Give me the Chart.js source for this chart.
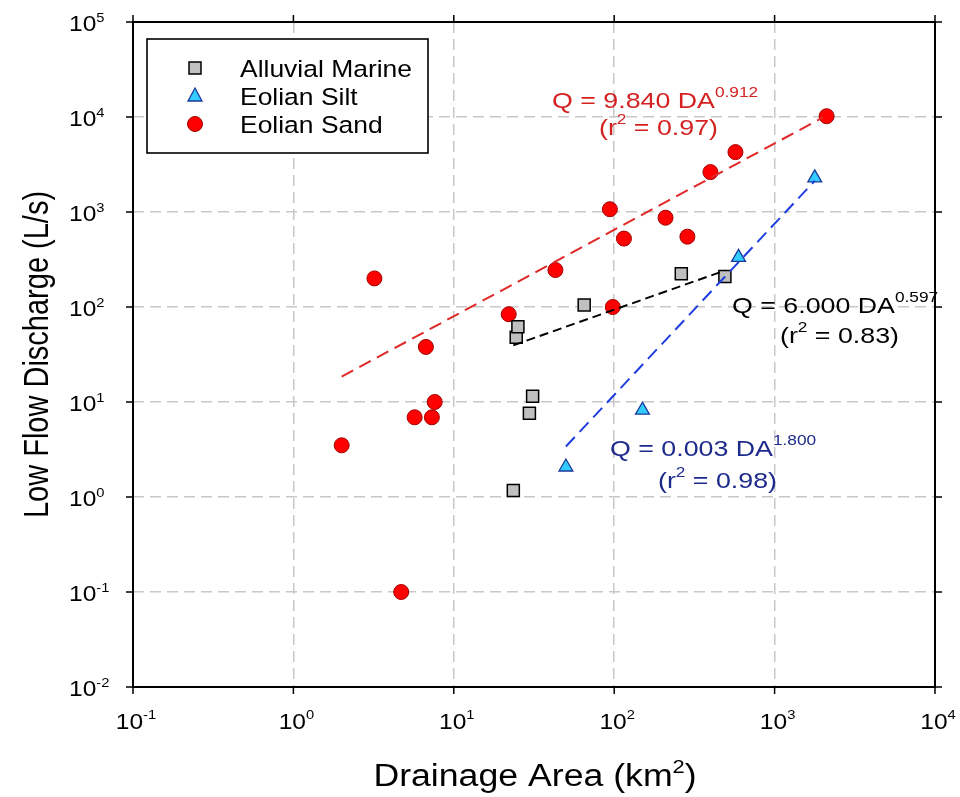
<!DOCTYPE html>
<html>
<head>
<meta charset="utf-8">
<script src="https://cdn.jsdelivr.net/npm/chart.js@4.4.1/dist/chart.umd.min.js"></script>
<style>
  html, body { margin: 0; padding: 0; background: #fff; }
  canvas { display: block; }
</style>
</head>
<body>
<canvas id="myChart" width="960" height="797"></canvas>
<script>
// ---- data ----
const alluvialArea = [23.5, 24.5, 25.1, 29.6, 31, 65, 262, 490];
const alluvialQ = [1.17, 48, 62, 7.6, 11.5, 105, 224, 209];

const siltArea = [50, 150, 596, 1780];
const siltQ = [2.07, 8.2, 333, 2290];

const sandArea = [2.0, 3.2, 4.7, 5.7, 6.7, 7.3, 7.6, 22, 43, 94, 98, 115, 209, 286, 398, 570, 2110];
const sandQ = [3.5, 200, 0.1, 6.9, 38, 6.9, 10, 84, 245, 1070, 100, 525, 870, 550, 2630, 4270, 10200];

// fitted power-law lines (end points)
const sandFitArea = [2.0, 2000];
const sandFitQ = [18.5, 9900];
const alluvialFitArea = [23.5, 490];
const alluvialFitQ = [39.5, 242];
const siltFitArea = [50, 1780];
const siltFitQ = [3.4, 2130];

const xTickExp = [-1, 0, 1, 2, 3, 4];
const yTickExp = [-2, -1, 0, 1, 2, 3, 4, 5];

const seriesNames = ["Alluvial Marine", "Eolian Silt", "Eolian Sand"];

function pts(xs, ys) {
    return xs.map((x, i) => ({ x: x, y: ys[i] }));
}

const FONT = '"Liberation Sans", Arial, sans-serif';

// draws a run of [text, size, rise] parts, k = horizontal stretch
function rich(ctx, parts, x, y, color, align, k) {
    k = k || 1;
    ctx.save();
    ctx.fillStyle = color;
    ctx.textBaseline = "alphabetic";
    ctx.textAlign = "left";
    let total = 0;
    parts.forEach(p => {
        ctx.font = p[1] + "px " + FONT;
        total += ctx.measureText(p[0]).width * k;
    });
    let cx = x;
    if (align === "center") cx = x - total / 2;
    if (align === "right") cx = x - total;
    parts.forEach(p => {
        ctx.font = p[1] + "px " + FONT;
        ctx.save();
        ctx.translate(cx, y - (p[2] || 0));
        ctx.scale(k, 1);
        ctx.fillText(p[0], 0, 0);
        ctx.restore();
        cx += ctx.measureText(p[0]).width * k;
    });
    ctx.restore();
    return total;
}

function marker(ctx, style, x, y) {
    ctx.save();
    if (style === "rect") {
        ctx.fillStyle = "#c0c0c0";
        ctx.strokeStyle = "#000";
        ctx.lineWidth = 1.5;
        ctx.fillRect(x - 6, y - 6, 12, 12);
        ctx.strokeRect(x - 6, y - 6, 12, 12);
    } else if (style === "triangle") {
        ctx.fillStyle = "#33ccff";
        ctx.strokeStyle = "#1a3a9a";
        ctx.lineWidth = 1.3;
        ctx.beginPath();
        ctx.moveTo(x, y - 8);
        ctx.lineTo(x + 7, y + 5);
        ctx.lineTo(x - 7, y + 5);
        ctx.closePath();
        ctx.fill();
        ctx.stroke();
    } else {
        ctx.fillStyle = "#ff0000";
        ctx.strokeStyle = "#a00000";
        ctx.lineWidth = 1;
        ctx.beginPath();
        ctx.arc(x, y, 7.5, 0, Math.PI * 2);
        ctx.fill();
        ctx.stroke();
    }
    ctx.restore();
}

const decorations = {
    id: "decorations",
    beforeDraw(chart) {
        const ctx = chart.ctx;
        ctx.save();
        ctx.fillStyle = "#fff";
        ctx.fillRect(0, 0, chart.width, chart.height);
        ctx.restore();
    },
    afterDraw(chart) {
        const ctx = chart.ctx;
        const a = chart.chartArea;
        const xs = chart.scales.x, ys = chart.scales.y;

        // frame
        ctx.save();
        ctx.strokeStyle = "#000";
        ctx.lineWidth = 2;
        ctx.strokeRect(a.left, a.top, a.right - a.left, a.bottom - a.top);

        // outward tick marks
        ctx.lineWidth = 1.5;
        ctx.beginPath();
        xTickExp.forEach(e => {
            const px = xs.getPixelForValue(Math.pow(10, e));
            ctx.moveTo(px, a.bottom); ctx.lineTo(px, a.bottom + 7);
            ctx.moveTo(px, a.top); ctx.lineTo(px, a.top - 7);
        });
        yTickExp.forEach(e => {
            const py = ys.getPixelForValue(Math.pow(10, e));
            ctx.moveTo(a.left, py); ctx.lineTo(a.left - 7, py);
            ctx.moveTo(a.right, py); ctx.lineTo(a.right + 7, py);
        });
        ctx.stroke();
        ctx.restore();

        // tick labels
        xTickExp.forEach(e => {
            const px = xs.getPixelForValue(Math.pow(10, e));
            rich(ctx, [["10", 22.5, 0], [String(e), 13.5, 10]], px + 3, a.bottom + 42, "#000", "center", 1.09);
        });
        yTickExp.forEach(e => {
            const py = ys.getPixelForValue(Math.pow(10, e));
            rich(ctx, [["10", 22.5, 0], [String(e), 13.5, 9]], 69, py + 9, "#000", "left", 1.09);
        });

        // axis titles
        rich(ctx, [["Drainage Area (km", 31, 0], ["2", 19, 13], [")", 31, 0]], 535, 786, "#000", "center", 1.15);
        ctx.save();
        ctx.translate(48, (a.top + a.bottom) / 2);
        ctx.rotate(-Math.PI / 2);
        ctx.scale(1, 1.2);
        ctx.font = "29px " + FONT;
        ctx.fillStyle = "#000";
        ctx.textAlign = "center";
        ctx.textBaseline = "alphabetic";
        ctx.fillText("Low Flow Discharge (L/s)", 0, 0);
        ctx.restore();

        // legend
        ctx.save();
        ctx.fillStyle = "#fff";
        ctx.fillRect(147, 39, 281, 114);
        ctx.strokeStyle = "#000";
        ctx.lineWidth = 1.6;
        ctx.strokeRect(147, 39, 281, 114);
        ctx.restore();
        const styles = ["rect", "triangle", "circle"];
        const rows = [68, 96, 124];
        seriesNames.forEach((n, i) => {
            marker(ctx, styles[i], 195, rows[i]);
            rich(ctx, [[n, 24.5, 0]], 240, rows[i] + 8.5, "#000", "left", 1.08);
        });

        // fit equations
        const red = "#d42222", navy = "#1e2a8c";
        rich(ctx, [["Q = 9.840 DA", 22.5, 0], ["0.912", 14.5, 11]], 552, 108, red, "left", 1.19);
        rich(ctx, [["(r", 22.5, 0], ["2", 14.5, 11], [" = 0.97)", 22.5, 0]], 599, 135, red, "left", 1.19);
        rich(ctx, [["Q = 6.000 DA", 22.5, 0], ["0.597", 14.5, 11]], 732, 313, "#000", "left", 1.19);
        rich(ctx, [["(r", 22.5, 0], ["2", 14.5, 11], [" = 0.83)", 22.5, 0]], 780, 343, "#000", "left", 1.19);
        rich(ctx, [["Q = 0.003 DA", 22.5, 0], ["1.800", 14.5, 11]], 610, 456, navy, "left", 1.19);
        rich(ctx, [["(r", 22.5, 0], ["2", 14.5, 11], [" = 0.98)", 22.5, 0]], 658, 488, navy, "left", 1.19);
    }
};

function decadeTicks(exps) {
    return function (scale) {
        scale.ticks = exps.map(e => ({ value: Math.pow(10, e) }));
    };
}

new Chart("myChart", {
    type: "scatter",
    data: {
        datasets: [
            {
                label: "Eolian Sand fit",
                data: pts(sandFitArea, sandFitQ),
                showLine: true,
                borderColor: "#e02828",
                borderWidth: 2,
                borderDash: [13, 7],
                pointRadius: 0,
                order: 0
            },
            {
                label: "Alluvial Marine fit",
                data: pts(alluvialFitArea, alluvialFitQ),
                showLine: true,
                borderColor: "#000",
                borderWidth: 2,
                borderDash: [9, 5],
                pointRadius: 0,
                order: 0
            },
            {
                label: "Eolian Silt fit",
                data: pts(siltFitArea, siltFitQ),
                showLine: true,
                borderColor: "#1f3ee0",
                borderWidth: 2,
                borderDash: [13, 7],
                pointRadius: 0,
                order: 0
            },
            {
                label: seriesNames[0],
                data: pts(alluvialArea, alluvialQ),
                pointStyle: "rect",
                pointRadius: 8.5,
                backgroundColor: "#c0c0c0",
                borderColor: "#000",
                borderWidth: 1.5,
                order: 1
            },
            {
                label: seriesNames[1],
                data: pts(siltArea, siltQ),
                pointStyle: "triangle",
                pointRadius: 8,
                backgroundColor: "#33ccff",
                borderColor: "#1a3a9a",
                borderWidth: 1.3,
                order: 1
            },
            {
                label: seriesNames[2],
                data: pts(sandArea, sandQ),
                pointStyle: "circle",
                pointRadius: 7.5,
                backgroundColor: "#ff0000",
                borderColor: "#a00000",
                borderWidth: 1,
                order: 1
            }
        ]
    },
    options: {
        responsive: false,
        animation: false,
        devicePixelRatio: 1,
        layout: { padding: { top: 22, right: 25, left: 0, bottom: 0 } },
        plugins: {
            legend: { display: false },
            tooltip: { enabled: false }
        },
        scales: {
            x: {
                type: "logarithmic",
                min: 0.1,
                max: 10000,
                afterBuildTicks: decadeTicks(xTickExp),
                afterFit: function (scale) { scale.height = 110; },
                ticks: { display: false },
                grid: { color: "#c8c8c8", lineWidth: 1.5, drawTicks: false },
                border: { display: false, dash: [11, 6] }
            },
            y: {
                type: "logarithmic",
                min: 0.01,
                max: 100000,
                afterBuildTicks: decadeTicks(yTickExp),
                afterFit: function (scale) { scale.width = 133; },
                ticks: { display: false },
                grid: { color: "#c8c8c8", lineWidth: 1.5, drawTicks: false },
                border: { display: false, dash: [11, 6] }
            }
        }
    },
    plugins: [decorations]
});
</script>
</body>
</html>
